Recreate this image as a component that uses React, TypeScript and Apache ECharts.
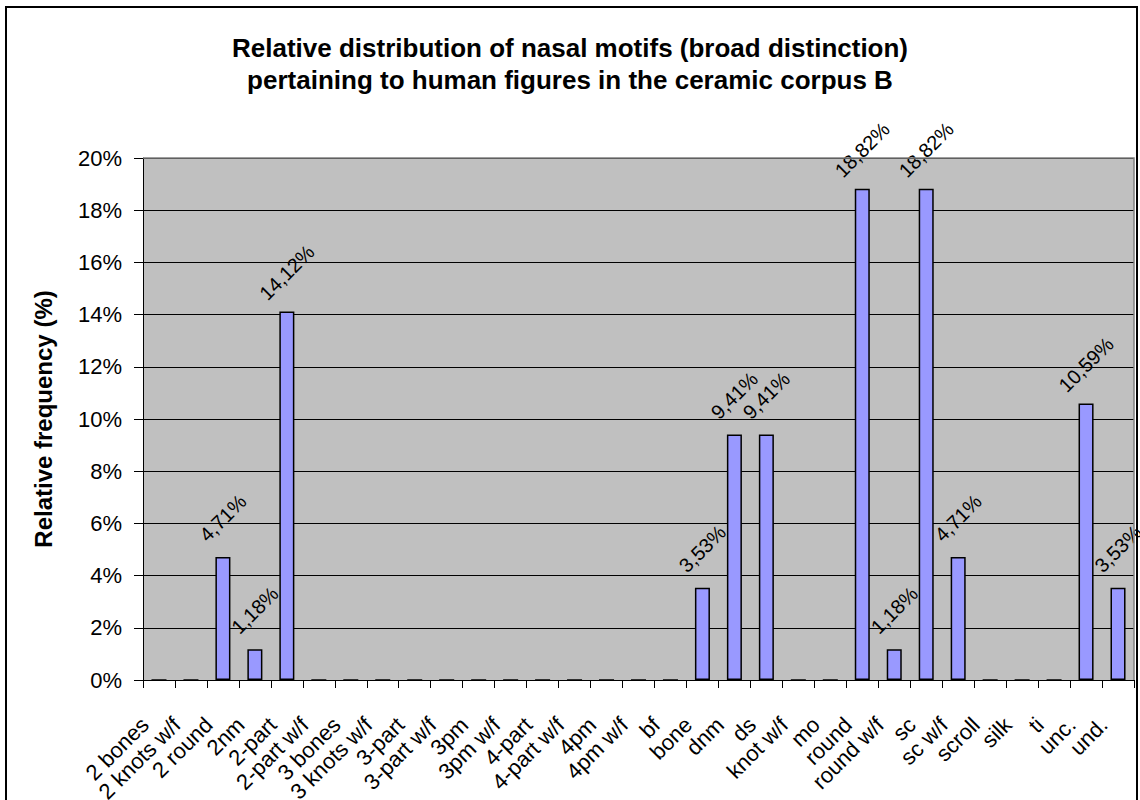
import React, { useEffect, useRef } from "react";
import * as echarts from "echarts";

const categories = [
  "2 bones", "2 knots w/f", "2 round", "2nm", "2-part", "2-part w/f", "3 bones", "3 knots w/f",
  "3-part", "3-part w/f", "3pm", "3pm w/f", "4-part", "4-part w/f", "4pm", "4pm w/f", "bf",
  "bone", "dnm", "ds", "knot w/f", "mo", "round", "round w/f", "sc", "sc w/f", "scroll", "silk",
  "ti", "unc.", "und.",
];
const values = [
  0, 0, 4.71, 1.18, 14.12, 0, 0, 0,
  0, 0, 0, 0, 0, 0, 0, 0, 0,
  3.53, 9.41, 9.41, 0, 0, 18.82, 1.18, 18.82, 4.71, 0, 0,
  0, 10.59, 3.53,
];
const titleText = "Relative distribution of nasal motifs (broad distinction)\npertaining to human figures in the ceramic corpus B";
const yAxisName = "Relative frequency (%)";

const FONT = "'Liberation Sans', Arial, sans-serif";

export default function App() {
  const ref = useRef<HTMLDivElement>(null);
  useEffect(() => {
    if (!ref.current) return;
    const chart = echarts.init(ref.current, null, { renderer: "svg" });
    chart.setOption({
      animation: false,
      backgroundColor: "#ffffff",
      title: {
        text: titleText,
        left: "center",
        top: 27,
        textStyle: { fontFamily: FONT, fontSize: 26, fontWeight: "bold", color: "#000", lineHeight: 32 },
      },
      graphic: [
        {
          type: "rect",
          shape: { x: 6, y: 7, width: 1131, height: 810 },
          style: { fill: "none", stroke: "#000", lineWidth: 2 },
          silent: true,
        },
        {
          type: "polyline",
          shape: { points: [[143, 158], [1134, 158], [1134, 680]] },
          style: { fill: "none", stroke: "#808080", lineWidth: 1.5 },
          silent: true,
          z: 100,
        },
      ],
      grid: {
        left: 143,
        right: 6,
        top: 158,
        bottom: 120,
        show: true,
        backgroundColor: "#C0C0C0",
        borderWidth: 0,
        containLabel: false,
        outerBoundsMode: "none",
      },
      xAxis: {
        type: "category",
        data: categories,
        boundaryGap: true,
        axisLine: { show: true, lineStyle: { color: "#000", width: 1 } },
        axisTick: { show: true, length: 8, lineStyle: { color: "#000" }, alignWithLabel: false },
        axisLabel: {
          interval: 0,
          rotate: 45,
          fontFamily: FONT,
          fontSize: 22,
          color: "#000",
          margin: 27,
          padding: [0, 20, 0, 0],
        },
        splitLine: { show: false },
      },
      yAxis: {
        type: "value",
        min: 0,
        max: 20,
        interval: 2,
        name: yAxisName,
        nameLocation: "middle",
        nameGap: 88,
        nameTextStyle: { fontFamily: FONT, fontSize: 24, fontWeight: "bold", color: "#000" },
        axisLine: { show: true, lineStyle: { color: "#000", width: 1 } },
        axisTick: { show: true, length: 9, lineStyle: { color: "#000" } },
        axisLabel: {
          formatter: "{value}%",
          fontFamily: FONT,
          fontSize: 22,
          color: "#000",
          margin: 21,
        },
        splitLine: { show: true, lineStyle: { color: "#000", width: 1 } },
      },
      series: [
        {
          type: "bar",
          data: values,
          barWidth: "47%",
          itemStyle: { color: "#9999FF", borderColor: "#000", borderWidth: 1.5 },
          label: {
            show: true,
            position: "top",
            rotate: 45,
            distance: 39,
            align: "center",
            verticalAlign: "middle",
            fontFamily: FONT,
            fontSize: 20,
            color: "#000",
            formatter: (p: any) => (p.value ? p.value.toFixed(2).replace(".", ",") + "%" : ""),
          },
        },
      ],
    });
    return () => chart.dispose();
  }, []);
  return (
    <div
      ref={ref}
      style={{ position: "fixed", left: 0, top: 0, width: 1140, height: 800 }}
    />
  );
}
